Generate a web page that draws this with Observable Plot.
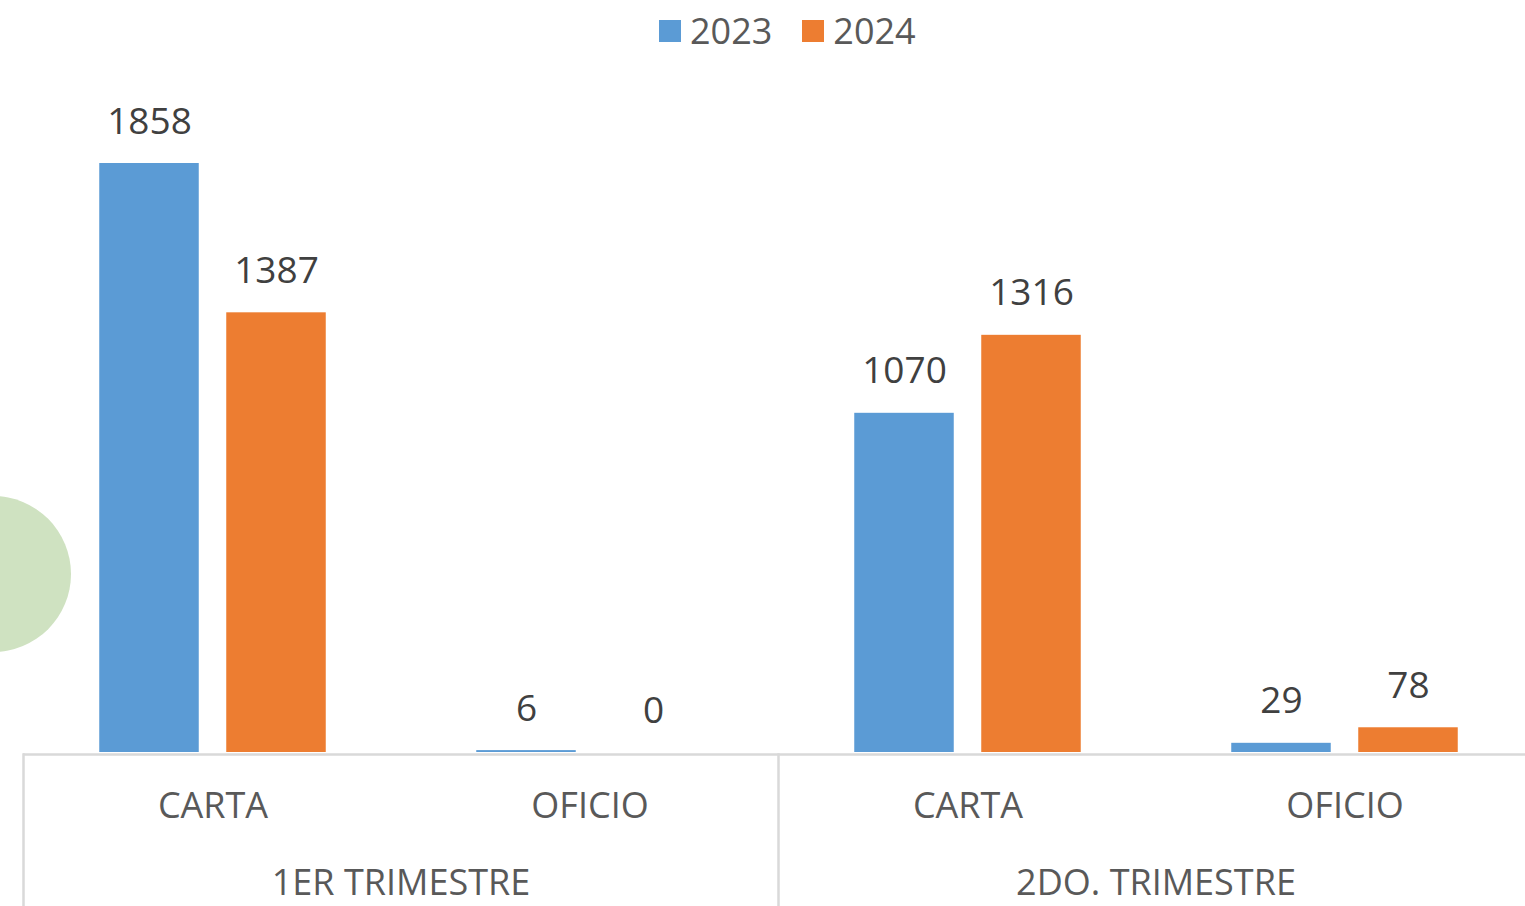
<!DOCTYPE html>
<html>
<head>
<meta charset="utf-8">
<script src="https://cdn.jsdelivr.net/npm/d3@7"></script>
<script src="https://cdn.jsdelivr.net/npm/@observablehq/plot@0.6"></script>
<style>
  html, body { margin: 0; padding: 0; background: #fff; overflow: hidden; width: 1525px; height: 906px; }
  #wrap { position: relative; width: 1525px; height: 906px; overflow: hidden; }
  #deco { position: absolute; left: -85px; top: 496px; width: 156px; height: 156px; border-radius: 50%; background: #cfe2c1; }
  #legend { position: absolute; top: 6px; left: 659px; display: flex; align-items: center; font-family: "Open Sans", sans-serif; font-size: 36px; color: #595959; white-space: nowrap; }
  #legend .item { display: flex; align-items: center; margin-right: 30px; }
  #legend .sw { width: 22px; height: 22px; margin-right: 9px; }
  #chart { position: absolute; left: 0; top: 0; width: 1535px; }
  #chart svg { max-width: none !important; }
</style>
</head>
<body>
<div id="wrap">
  <div id="deco"></div>
  <div id="chart"></div>
  <div id="legend"></div>
</div>
<script>
const trimestres = ["1ER TRIMESTRE", "2DO. TRIMESTRE"];
const tipos = ["CARTA", "OFICIO"];
const years = ["2023", "2024"];
const values2023 = [1858, 6, 1070, 29];
const values2024 = [1387, 0, 1316, 78];
const colors = ["#5b9bd5", "#ed7d31"];

const seriesValues = [values2023, values2024];
const data = [];
years.forEach((yr, yi) => {
  trimestres.forEach((tr, ti) => {
    tipos.forEach((tp, pi) => {
      data.push({trimestre: tr, tipo: tp, year: yr, value: seriesValues[yi][ti * tipos.length + pi]});
    });
  });
});
const tipoRows = [];
trimestres.forEach(tr => tipos.forEach(tp => tipoRows.push({trimestre: tr, tipo: tp})));

const offsets = [-63.5, 63.5];
const font = "'Open Sans', sans-serif";

const chart = Plot.plot({
  width: 1535,
  height: 906,
  marginLeft: 23,
  marginRight: 2,
  marginTop: 163,
  marginBottom: 154,
  style: {fontFamily: font, background: "transparent", overflow: "visible", maxWidth: "none"},
  fx: {domain: trimestres, padding: 0, axis: null},
  x: {domain: tipos, padding: 0, axis: null},
  y: {domain: [0, 1858], axis: null},
  color: {domain: years, range: colors},
  marks: [
    ...years.map((yr, i) => Plot.barY(data.filter(d => d.year === yr), {
      fx: "trimestre", x: "tipo", y: "value", fill: "year",
      dx: offsets[i], insetLeft: 138.75, insetRight: 138.75
    })),
    Plot.ruleY([0], {stroke: "#d9d9d9", strokeWidth: 2.5, dy: 2}),
    Plot.frame({anchor: "left", stroke: "#d9d9d9", strokeWidth: 2.5, strokeOpacity: 1, insetTop: 591, insetBottom: -160}),
    ...years.map((yr, i) => Plot.text(data.filter(d => d.year === yr), {
      fx: "trimestre", x: "tipo", y: "value", text: d => String(d.value),
      dx: offsets[i], dy: -30, lineAnchor: "bottom", textAnchor: "middle",
      fill: "#404040", fontSize: 37
    })),
    Plot.text(tipoRows, {
      fx: "trimestre", x: "tipo", frameAnchor: "bottom", text: "tipo",
      dy: 54, lineAnchor: "middle", fill: "#595959", fontSize: 36
    }),
    Plot.text(trimestres, {
      fx: d => d, frameAnchor: "bottom", text: d => d,
      dy: 131, lineAnchor: "middle", textAnchor: "middle", fill: "#595959", fontSize: 36
    })
  ]
});
document.getElementById("chart").appendChild(chart);

const legend = document.getElementById("legend");
years.forEach((yr, i) => {
  const item = document.createElement("div");
  item.className = "item";
  const sw = document.createElement("div");
  sw.className = "sw";
  sw.style.background = colors[i];
  const lab = document.createElement("span");
  lab.textContent = yr;
  item.appendChild(sw);
  item.appendChild(lab);
  legend.appendChild(item);
});
</script>
</body>
</html>
